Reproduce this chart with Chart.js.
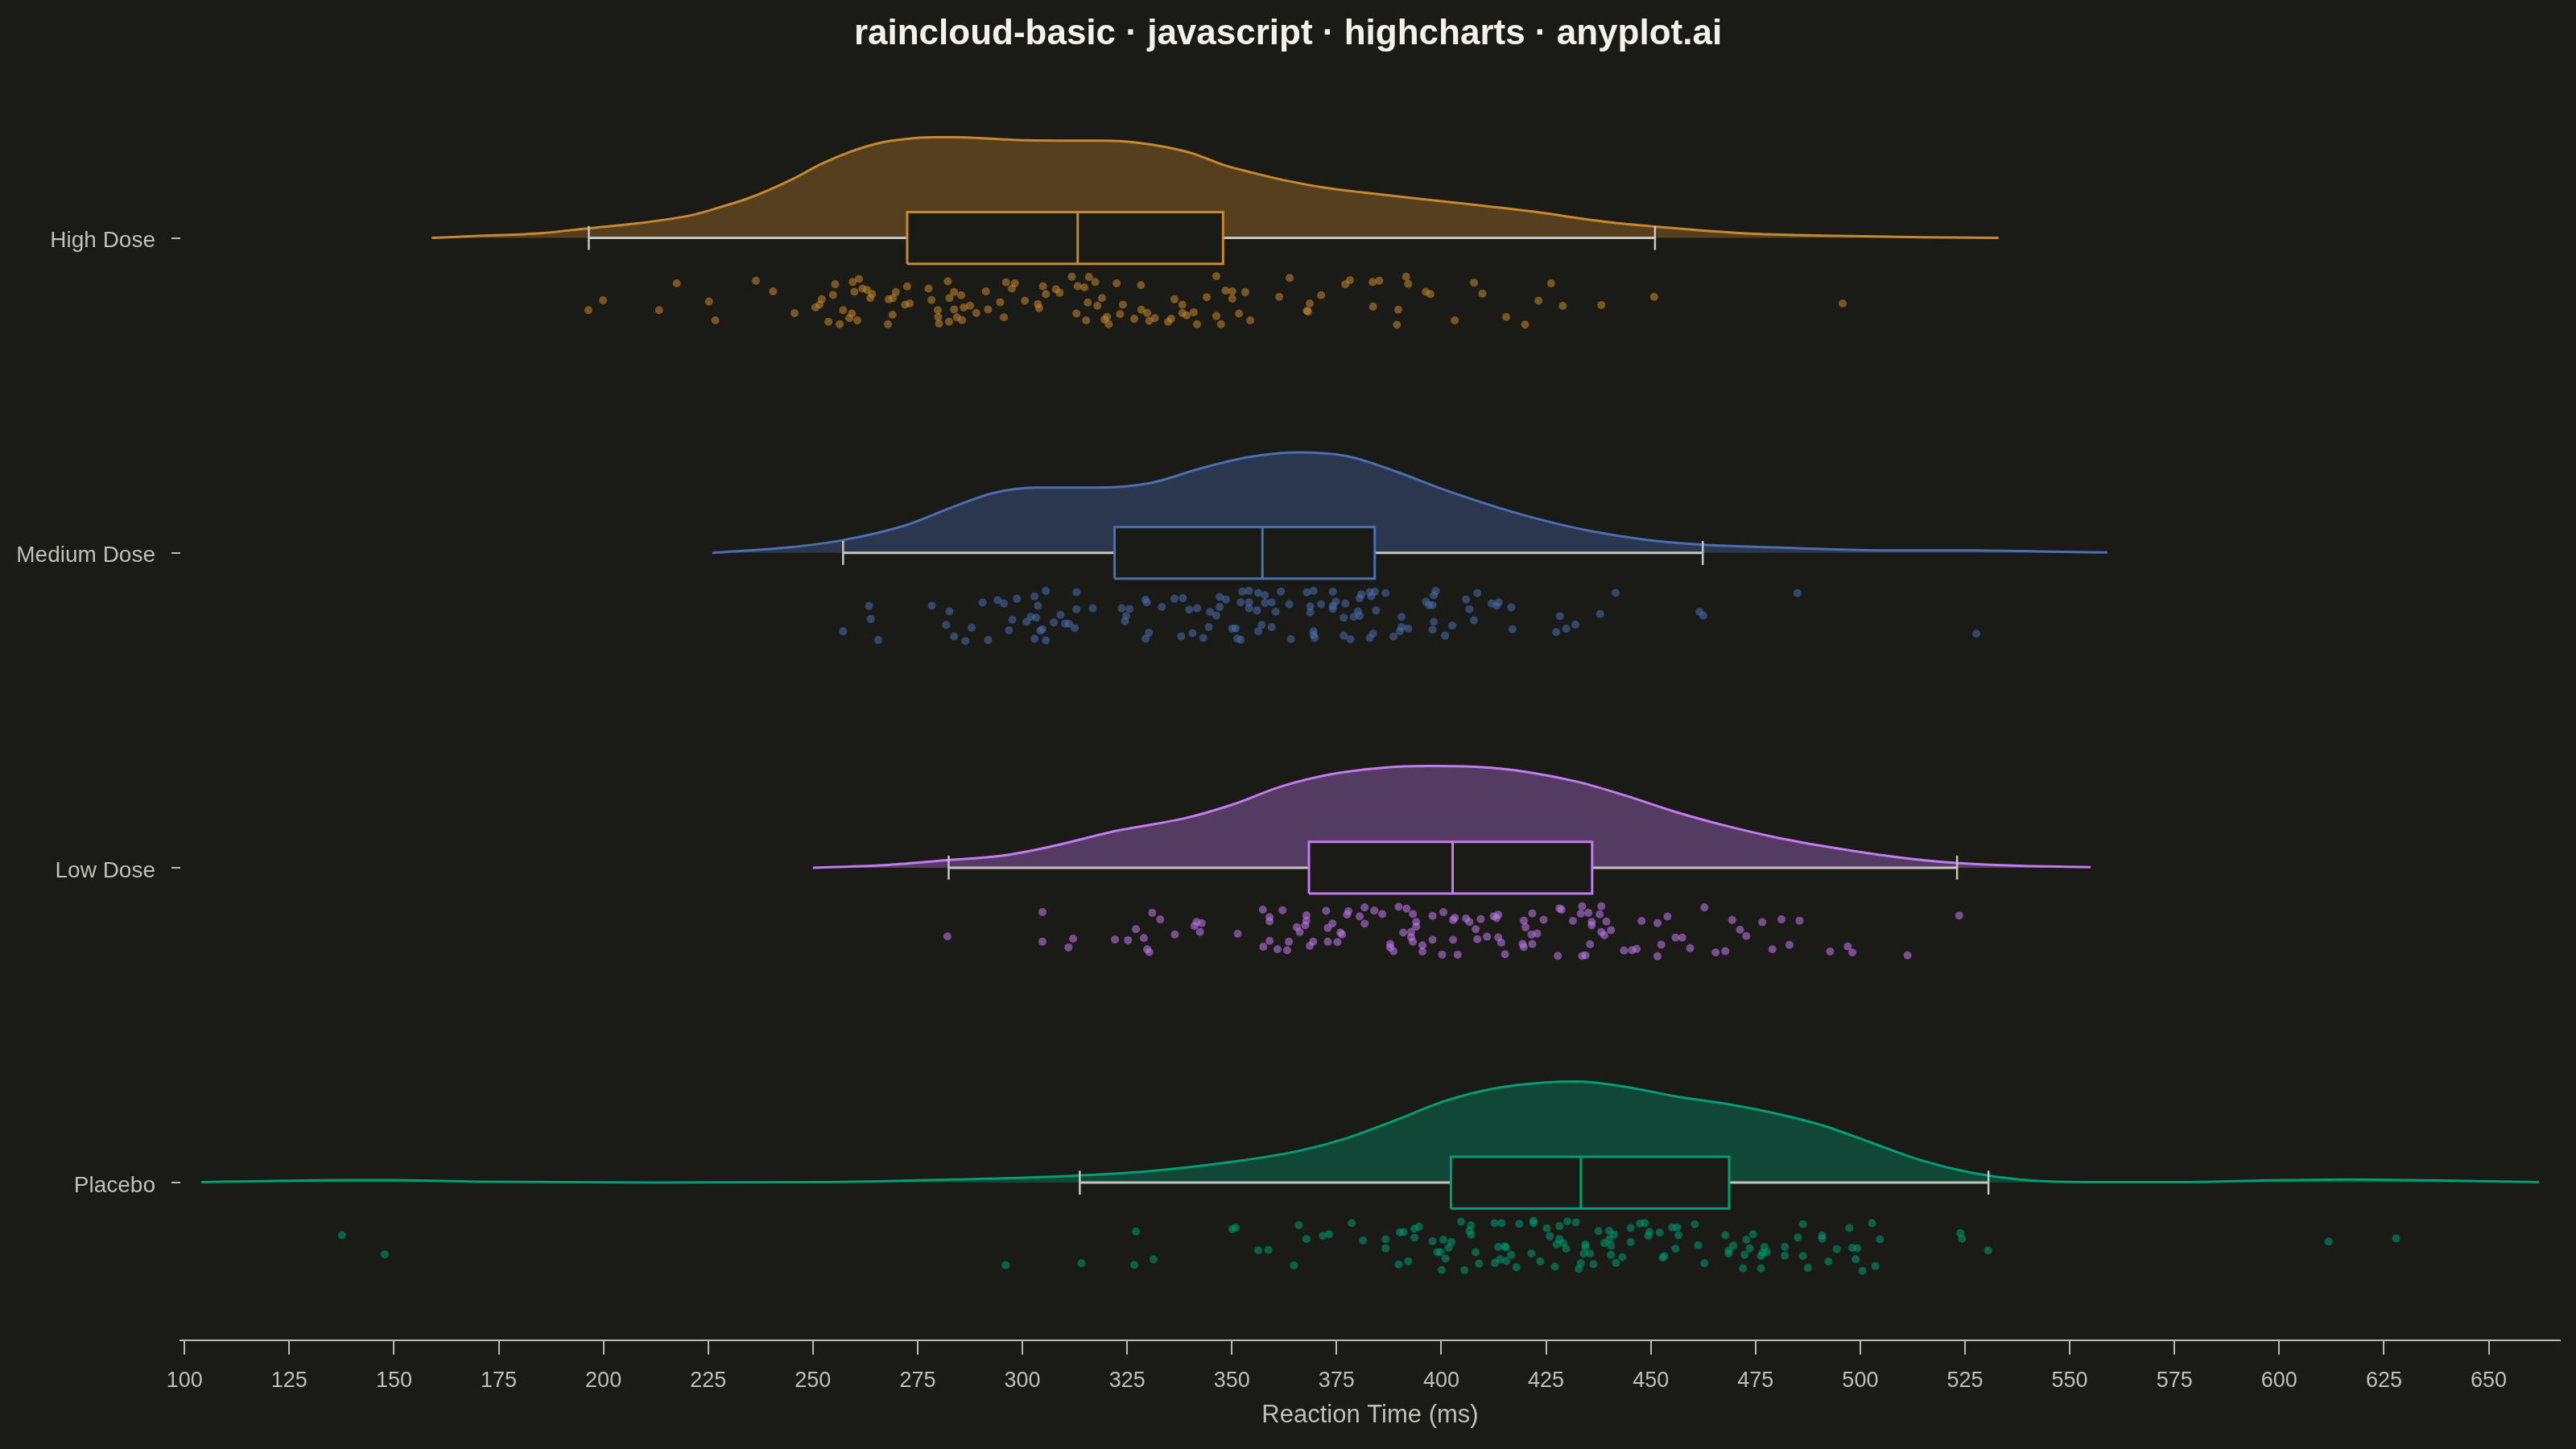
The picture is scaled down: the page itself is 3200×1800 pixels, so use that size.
<!DOCTYPE html>
<html><head><meta charset="utf-8">
<script src="https://cdn.jsdelivr.net/npm/chart.js@4.4.1/dist/chart.umd.min.js"></script>
<style>html,body{margin:0;padding:0;background:#1a1a17;}canvas{display:block;}</style>
</head><body>
<canvas id="c" width="3200" height="1800" style="width:3200px;height:1800px"></canvas>
<script>
// ---------- DATA ----------
const categories = ['Placebo', 'Low Dose', 'Medium Dose', 'High Dose'];
const xTicks = [100,125,150,175,200,225,250,275,300,325,350,375,400,425,450,475,500,525,550,575,600,625,650];

// box stats: [whisker low, Q1, median, Q3, whisker high]
const highDoseBox = [196.5, 272.5, 313.2, 347.9, 451.0];
const mediumDoseBox = [257.2, 322.0, 357.3, 384.1, 462.4];
const lowDoseBox = [282.4, 368.4, 402.7, 436.0, 523.1];
const placeboBox = [313.7, 402.3, 433.3, 468.7, 530.6];

// density curves: [reaction time, density height (in category units)]
const highDoseKde = [[159,0],[171,0.007],[185,0.015],[196.5,0.031],[208,0.046],[221.6,0.074],[227.7,0.097],[235,0.128],[245,0.186],[252,0.235],[259,0.274],[266,0.302],[272,0.314],[278,0.320],[284,0.320],[294,0.314],[301,0.310],[312,0.309],[320,0.309],[327,0.303],[334,0.289],[340.5,0.269],[348,0.232],[355,0.207],[363,0.182],[372,0.160],[381.6,0.144],[401,0.115],[421,0.085],[440,0.050],[451,0.036],[472,0.015],[495,0.0065],[515,0.002],[533,0]];
const mediumDoseKde = [[226,0],[244,0.017],[257,0.040],[272,0.087],[283.5,0.146],[293,0.19],[303,0.207],[317,0.207],[330.6,0.222],[342,0.266],[354,0.304],[366,0.319],[377.6,0.307],[389.4,0.257],[401,0.199],[413,0.146],[424.7,0.102],[436.5,0.067],[448,0.043],[462,0.026],[480,0.017],[507,0.008],[527,0.008],[545,0.004],[559,0.001]];
const lowDoseKde = [[250,0],[268,0.009],[282,0.024],[295,0.038],[307,0.068],[322.7,0.118],[338.4,0.156],[350,0.20],[362,0.259],[373.7,0.297],[385.5,0.317],[397,0.323],[409,0.32],[421,0.303],[432.5,0.273],[444,0.229],[456,0.177],[468,0.133],[479.6,0.097],[491.4,0.068],[503,0.044],[515,0.024],[523,0.015],[538,0.006],[555,0.002]];
const placeboKde = [[104,0.0015],[119,0.005],[138,0.008],[150,0.008],[170,0.003],[213,0.0006],[252,0.0015],[283.5,0.010],[307,0.019],[330.6,0.037],[350,0.066],[366,0.101],[377.6,0.142],[389.4,0.20],[401,0.26],[413,0.30],[424.7,0.318],[432.5,0.321],[444,0.304],[456,0.274],[468,0.25],[479.6,0.22],[491.4,0.18],[503,0.125],[515,0.069],[526.7,0.031],[538,0.010],[554,0.0015],[577.6,0.0015],[597,0.007],[617,0.010],[636.5,0.007],[662,0.0015]];

// raw observations: [reaction time, jitter below category (category units)]
const highDosePoints = [[196.4,.229],[199.9,.198],[213.3,.229],[217.5,.144],[225.2,.202],[226.7,.262],[236.4,.136],[240.5,.170],[245.6,.239],[250.6,.221],[251.6,.212],[252.1,.195],[253.7,.266],[254.8,.181],[255.3,.147],[256.4,.274],[257.2,.229],[258.7,.255],[259.3,.240],[259.5,.140],[259.9,.171],[260.6,.262],[261.0,.130],[261.8,.161],[262.9,.165],[263.7,.191],[264.1,.178],[267.9,.274],[268.1,.195],[269.0,.244],[269.1,.191],[269.8,.172],[272.0,.212],[272.5,.154],[273.1,.208],[277.6,.161],[278.3,.197],[279.8,.229],[279.9,.251],[280.1,.272],[282.2,.138],[282.5,.266],[282.6,.191],[283.7,.172],[283.7,.227],[284.4,.252],[285.4,.182],[285.6,.261],[286.0,.221],[287.5,.215],[289.0,.238],[291.3,.170],[291.8,.227],[294.7,.204],[295.6,.252],[296.1,.141],[297.5,.161],[298.2,.144],[300.6,.199],[303.7,.210],[304.0,.223],[304.9,.153],[305.6,.178],[308.0,.163],[308.9,.174],[311.8,.123],[312.9,.240],[313.2,.153],[314.8,.157],[315.2,.262],[315.6,.205],[315.9,.124],[317.4,.140],[317.9,.215],[319.0,.191],[319.6,.259],[320.2,.251],[320.6,.274],[322.5,.144],[323.3,.242],[324.0,.212],[326.7,.257],[328.3,.150],[328.4,.228],[329.8,.238],[330.3,.263],[331.6,.255],[334.8,.266],[335.5,.257],[336.3,.195],[338.2,.212],[338.2,.238],[339.2,.246],[340.9,.236],[341.7,.274],[344.0,.188],[346.3,.121],[346.3,.248],[347.4,.274],[348.5,.167],[350.1,.170],[350.1,.193],[351.7,.240],[353.2,.172],[354.4,.262],[361.3,.187],[363.8,.127],[368.6,.208],[367.9,.231],[368.2,.234],[371.3,.182],[377.1,.147],[378.2,.134],[383.6,.140],[385.2,.136],[383.7,.218],[389.4,.276],[389.7,.228],[391.6,.123],[392.1,.146],[396.3,.171],[397.4,.178],[403.2,.262],[407.8,.142],[409.8,.177],[415.5,.251],[420.0,.275],[423.2,.199],[426.2,.144],[429.0,.216],[438.2,.213],[450.8,.187],[495.8,.208]];
const mediumDosePoints = [[257.2,.249],[263.4,.169],[263.8,.210],[265.6,.277],[278.4,.168],[281.8,.229],[282.6,.186],[283.7,.265],[286.4,.280],[287.9,.238],[290.5,.158],[291.8,.277],[294.1,.150],[295.6,.161],[296.8,.246],[297.6,.213],[298.7,.146],[301.0,.219],[302.0,.203],[302.9,.273],[302.9,.138],[303.3,.206],[303.7,.168],[304.3,.247],[304.8,.243],[305.6,.121],[305.6,.278],[307.5,.221],[309.1,.197],[310.2,.225],[311.1,.225],[312.5,.239],[312.9,.125],[312.9,.179],[316.8,.176],[323.7,.176],[324.5,.217],[324.8,.200],[325.6,.178],[329.4,.273],[329.4,.149],[329.7,.157],[330.2,.254],[333.3,.172],[336.3,.146],[337.9,.265],[338.3,.144],[339.8,.180],[340.6,.255],[341.7,.176],[343.2,.270],[344.5,.236],[344.8,.188],[346.3,.199],[347.1,.140],[347.1,.172],[348.6,.148],[350.1,.240],[350.9,.240],[351.3,.272],[352.1,.276],[352.1,.157],[352.5,.123],[354.1,.121],[354.1,.157],[354.1,.176],[356.0,.183],[356.3,.249],[356.3,.127],[357.1,.229],[357.9,.134],[357.9,.159],[359.5,.236],[359.5,.157],[360.5,.187],[361.7,.123],[363.7,.163],[364.1,.274],[367.9,.125],[368.7,.170],[368.7,.189],[369.5,.121],[369.5,.249],[369.5,.260],[369.8,.270],[371.3,.163],[374.1,.123],[374.1,.169],[374.1,.178],[374.8,.155],[376.7,.206],[376.7,.263],[377.1,.161],[378.3,.274],[379.1,.203],[380.1,.186],[380.5,.200],[380.5,.144],[380.9,.132],[382.9,.125],[382.9,.270],[383.3,.138],[383.7,.257],[384.1,.123],[384.4,.183],[386.7,.128],[388.6,.266],[390.1,.249],[390.5,.203],[390.5,.236],[392.1,.240],[396.3,.155],[397.1,.166],[397.9,.166],[397.9,.244],[398.2,.219],[398.2,.135],[398.7,.121],[400.9,.263],[402.6,.231],[405.9,.148],[406.7,.179],[407.8,.214],[408.6,.128],[412.0,.161],[413.2,.168],[413.7,.157],[416.7,.173],[417.0,.243],[427.4,.252],[428.3,.201],[429.8,.241],[432.0,.228],[437.9,.194],[441.6,.127],[461.6,.187],[462.5,.199],[485.0,.128],[527.7,.257]];
const lowDosePoints = [[282.1,.218],[304.8,.141],[304.8,.235],[311.0,.253],[312.1,.225],[322.1,.228],[325.2,.230],[327.1,.195],[329.0,.223],[329.8,.259],[330.3,.268],[331.0,.143],[332.9,.164],[336.4,.212],[341.1,.185],[341.6,.172],[342.8,.176],[342.4,.204],[351.4,.210],[357.4,.133],[357.5,.251],[359.0,.157],[359.0,.170],[359.0,.232],[360.9,.259],[362.1,.135],[363.2,.262],[363.6,.235],[365.5,.189],[366.2,.204],[367.5,.183],[367.8,.151],[367.8,.168],[368.6,.248],[369.4,.235],[372.5,.137],[372.9,.191],[372.9,.235],[374.0,.177],[375.2,.236],[375.9,.206],[376.3,.212],[377.5,.149],[377.8,.138],[380.5,.154],[381.7,.178],[381.7,.126],[384.0,.136],[385.9,.147],[387.8,.242],[387.8,.253],[388.6,.265],[389.8,.124],[390.9,.206],[391.7,.130],[392.8,.204],[392.8,.221],[393.2,.147],[393.2,.235],[394.0,.172],[394.0,.187],[395.5,.246],[395.5,.266],[397.9,.153],[397.9,.229],[400.2,.276],[400.5,.141],[402.8,.166],[402.8,.229],[403.2,.159],[403.9,.276],[405.9,.161],[406.7,.172],[408.2,.195],[408.6,.227],[409.4,.163],[410.9,.219],[412.5,.154],[413.2,.160],[413.6,.149],[413.6,.221],[414.3,.238],[415.2,.275],[419.7,.168],[420.1,.189],[419.4,.242],[419.7,.252],[421.7,.145],[421.7,.242],[421.5,.212],[422.9,.209],[424.4,.165],[427.8,.280],[428.2,.129],[428.7,.133],[431.4,.169],[433.3,.146],[433.6,.122],[433.6,.280],[434.4,.278],[435.1,.143],[435.5,.243],[435.9,.172],[435.9,.183],[437.8,.148],[438.2,.122],[438.2,.204],[438.9,.214],[439.4,.171],[440.5,.198],[443.6,.263],[445.5,.262],[446.6,.258],[447.8,.169],[451.6,.176],[451.6,.281],[452.5,.244],[454.0,.155],[455.9,.222],[457.5,.222],[459.4,.255],[462.8,.126],[465.5,.269],[467.8,.265],[469.4,.166],[471.3,.197],[472.8,.217],[476.6,.173],[479.0,.259],[481.2,.164],[483.1,.245],[485.5,.168],[492.8,.266],[497.0,.250],[498.1,.269],[511.3,.278],[523.6,.152]];
const placeboPoints = [[137.6,.167],[147.8,.228],[296.0,.262],[314.1,.256],[326.7,.261],[327.1,.155],[331.3,.244],[350.1,.148],[350.9,.143],[356.3,.215],[358.7,.214],[364.8,.263],[366.0,.135],[367.8,.179],[371.7,.169],[373.2,.164],[378.6,.129],[381.3,.184],[386.7,.180],[386.7,.209],[389.8,.260],[390.1,.158],[391.0,.157],[392.1,.250],[393.6,.146],[393.6,.175],[394.7,.140],[397.9,.186],[399.0,.221],[399.8,.221],[400.1,.277],[400.5,.181],[401.0,.241],[401.7,.207],[402.4,.188],[404.7,.124],[405.5,.278],[406.7,.153],[407.1,.136],[407.1,.165],[408.2,.221],[409.0,.257],[412.7,.129],[412.8,.255],[413.6,.204],[414.0,.244],[414.4,.129],[415.1,.202],[415.5,.206],[415.5,.249],[416.7,.229],[417.9,.269],[418.6,.131],[421.5,.225],[422.0,.121],[422.0,.129],[423.6,.250],[425.2,.145],[425.9,.170],[427.1,.267],[427.5,.196],[428.2,.138],[428.2,.179],[429.1,.192],[429.8,.210],[430.1,.123],[432.1,.126],[432.8,.274],[433.3,.256],[434.0,.225],[434.4,.196],[434.4,.204],[435.5,.225],[436.3,.259],[437.5,.154],[438.9,.192],[440.1,.153],[440.1,.179],[440.5,.200],[440.5,.229],[441.2,.165],[441.7,.255],[443.2,.236],[445.2,.144],[445.2,.189],[447.4,.130],[448.6,.128],[449.4,.169],[449.7,.157],[452.1,.159],[452.8,.238],[453.2,.233],[455.1,.143],[455.9,.210],[456.3,.142],[456.6,.167],[460.5,.132],[461.3,.199],[462.8,.256],[467.8,.167],[468.6,.215],[468.6,.225],[469.7,.200],[472.0,.272],[472.4,.229],[472.8,.181],[473.6,.209],[474.4,.164],[476.3,.272],[476.3,.233],[476.7,.223],[477.1,.204],[477.7,.221],[482.0,.204],[482.0,.232],[485.1,.174],[486.3,.132],[486.3,.233],[487.5,.271],[490.9,.168],[490.9,.178],[492.4,.251],[494.4,.211],[497.4,.144],[498.1,.207],[498.9,.243],[499.3,.208],[500.5,.280],[502.8,.129],[503.6,.265],[504.7,.180],[523.9,.160],[524.3,.178],[530.5,.215],[611.8,.187],[627.9,.177]];

// ---------- STYLE ----------
const BG = '#1a1a17';
const AXIS = '#b9b9b1';
const LABEL = '#bfbfb7';
const WHISKER = '#c6c6be';
const BOX_HALF = 0.082, CAP_HALF = 0.038;
const FONT = "'Liberation Sans', Arial, Helvetica, sans-serif";

const groups = [
  { cat: 3, rgb: [200,136,48], kde: highDoseKde, box: highDoseBox, pts: highDosePoints },
  { cat: 2, rgb: [74,111,178], kde: mediumDoseKde, box: mediumDoseBox, pts: mediumDosePoints },
  { cat: 1, rgb: [196,122,240], kde: lowDoseKde, box: lowDoseBox, pts: lowDosePoints },
  { cat: 0, rgb: [0,158,115], kde: placeboKde, box: placeboBox, pts: placeboPoints }
];
const rgba = (c, a) => `rgba(${c[0]},${c[1]},${c[2]},${a})`;

const datasets = [];
const lineBase = { type: 'line', pointRadius: 0, pointHoverRadius: 0, fill: false, borderJoinStyle: 'miter' };
groups.forEach(g => {
  const c = g.cat, b = g.box;
  datasets.push(Object.assign({}, lineBase, {
    data: g.kde.map(([x, h]) => ({ x, y: c + h })),
    borderColor: rgba(g.rgb, 1), backgroundColor: rgba(g.rgb, 0.34),
    fill: { value: c }, borderWidth: 3, cubicInterpolationMode: 'monotone', order: 7
  }));
  datasets.push(Object.assign({}, lineBase, {
    data: [{ x: b[0], y: c }, { x: b[4], y: c }], borderColor: WHISKER, borderWidth: 3, order: 6
  }));
  datasets.push(Object.assign({}, lineBase, {
    data: [{ x: b[0], y: c - CAP_HALF }, { x: b[0], y: c + CAP_HALF }], borderColor: WHISKER, borderWidth: 2.5, order: 6
  }));
  datasets.push(Object.assign({}, lineBase, {
    data: [{ x: b[4], y: c - CAP_HALF }, { x: b[4], y: c + CAP_HALF }], borderColor: WHISKER, borderWidth: 2.5, order: 6
  }));
  datasets.push(Object.assign({}, lineBase, {
    data: [{ x: b[1], y: c + BOX_HALF }, { x: b[3], y: c + BOX_HALF }],
    borderWidth: 0, borderColor: BG, backgroundColor: BG, fill: { value: c - BOX_HALF }, order: 5
  }));
  datasets.push(Object.assign({}, lineBase, {
    data: [{ x: b[1], y: c - BOX_HALF }, { x: b[3], y: c - BOX_HALF }, { x: b[3], y: c + BOX_HALF }, { x: b[1], y: c + BOX_HALF }, { x: b[1], y: c - BOX_HALF }],
    borderColor: rgba(g.rgb, 1), borderWidth: 3, order: 4
  }));
  datasets.push(Object.assign({}, lineBase, {
    data: [{ x: b[2], y: c - BOX_HALF }, { x: b[2], y: c + BOX_HALF }], borderColor: rgba(g.rgb, 1), borderWidth: 3, order: 3
  }));
  datasets.push({
    type: 'scatter', data: g.pts.map(([x, j]) => ({ x, y: c - j })),
    backgroundColor: rgba(g.rgb, 0.55), borderWidth: 0, pointRadius: 5, pointHoverRadius: 5, showLine: false, order: 2
  });
});

const bgPlugin = {
  id: 'bg',
  beforeDraw(chart) {
    const ctx = chart.ctx; ctx.save(); ctx.fillStyle = BG; ctx.fillRect(0, 0, chart.width, chart.height); ctx.restore();
  }
};

Chart.defaults.font.family = FONT;
new Chart(document.getElementById('c'), {
  type: 'scatter',
  data: { datasets },
  plugins: [bgPlugin],
  options: {
    responsive: false, devicePixelRatio: 1, animation: false,
    layout: { padding: { left: 20, right: 20, top: 0, bottom: 0 } },
    plugins: {
      legend: { display: false }, tooltip: { enabled: false },
      title: {
        display: true, text: 'raincloud-basic · javascript · highcharts · anyplot.ai',
        color: '#f2f1ea', font: { family: FONT, size: 44, weight: 'bold', lineHeight: 1.2 },
        padding: { top: 16.6, bottom: 30.6 }
      }
    },
    scales: {
      x: {
        type: 'linear', min: 99, max: 667,
        afterBuildTicks: s => { s.ticks = xTicks.map(v => ({ value: v })); },
        afterFit: s => { s.height = 135.3; },
        ticks: { color: LABEL, font: { size: 27, lineHeight: 1.2 }, padding: 17, maxRotation: 0, autoSkip: false },
        grid: { drawOnChartArea: false, drawTicks: true, tickLength: 18, color: AXIS, lineWidth: 2 },
        border: { display: true, color: AXIS, width: 2 },
        title: { display: true, text: 'Reaction Time (ms)', color: LABEL, font: { size: 31, lineHeight: 1.2 }, padding: { top: 0, bottom: 23 } }
      },
      y: {
        type: 'linear', min: -0.5, max: 3.5,
        afterBuildTicks: s => { s.ticks = categories.map((_, i) => ({ value: i })); },
        afterFit: s => { s.width = 204; },
        ticks: { color: LABEL, font: { size: 28 }, padding: 20, labelOffset: 4, callback: v => categories[v] },
        grid: { drawOnChartArea: false, drawTicks: true, tickLength: 11, color: AXIS, lineWidth: 2 },
        border: { display: false }
      }
    }
  }
});
</script>
</body></html>
